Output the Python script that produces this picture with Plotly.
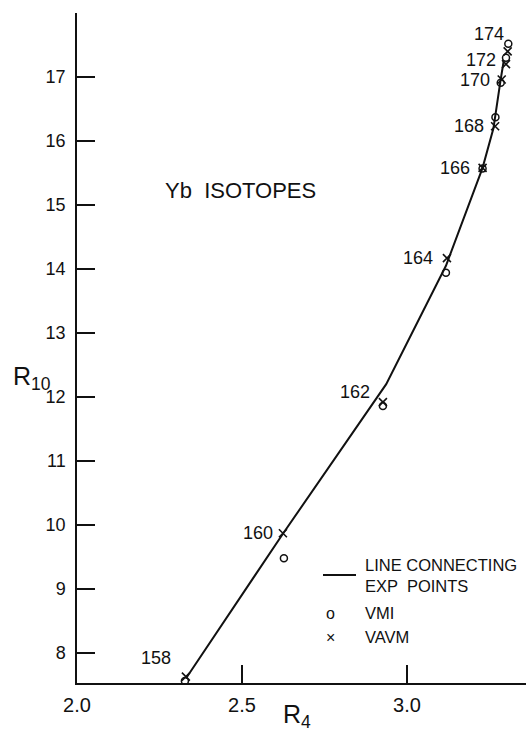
import plotly.graph_objects as go

# Yb isotopes: R4 = E(4+)/E(2+), R10 = E(10+)/E(2+)
isotopes = ["158", "160", "162", "164", "166", "168", "170", "172", "174"]

# variable moment of inertia model
vmi_r4 = [2.327, 2.627, 2.927, 3.118, 3.229, 3.268, 3.284, 3.300, 3.307]
vmi_r10 = [7.56, 9.48, 11.86, 13.94, 15.57, 16.37, 16.91, 17.30, 17.52]

# variable anharmonic vibrator model
vavm_r4 = [2.330, 2.624, 2.927, 3.121, 3.229, 3.267, 3.287, 3.300, 3.305]
vavm_r10 = [7.63, 9.87, 11.92, 14.17, 15.58, 16.23, 16.96, 17.20, 17.40]

# experimental points joined by the solid line
exp_r4 = [2.330, 2.625, 2.937, 3.118, 3.229, 3.262, 3.283, 3.293]
exp_r10 = [7.60, 9.87, 12.20, 14.05, 15.58, 16.20, 16.93, 17.25]

x_ticks = [2.0, 2.5, 3.0]
y_ticks = [8, 9, 10, 11, 12, 13, 14, 15, 16, 17]

W, H = 526, 736
ML, MR, MT, MB = 77, 0, 13, 53
PW, PH = W - ML - MR, H - MT - MB

FONT = "Liberation Sans"
INK = "#111111"


def px(xp):
    return (xp - ML) / PW


def py(yp):
    return 1 - (yp - MT) / PH


fig = go.Figure()

fig.add_trace(go.Scatter(
    x=exp_r4, y=exp_r10, mode="lines",
    line=dict(color=INK, width=2), hoverinfo="skip", showlegend=False,
))
fig.add_trace(go.Scatter(
    x=vmi_r4, y=vmi_r10, mode="markers",
    marker=dict(symbol="circle-open", size=7, color=INK, line=dict(width=1.5)),
    showlegend=False,
))
fig.add_trace(go.Scatter(
    x=vavm_r4, y=vavm_r10, mode="markers",
    marker=dict(symbol="x-thin-open", size=8, color=INK, line=dict(width=1.6, color=INK)),
    showlegend=False,
))

# mass-number labels, offset to the left of each point
label_shift = [(-13, 19), (-8, 0), (-11, 10), (-12, 0), (-11, 0),
               (-9, 0), (-10, 0), (-8, 4), (-2, 17)]
for name, xv, yv, (dx, dy) in zip(isotopes, vavm_r4, vavm_r10, label_shift):
    fig.add_annotation(
        x=xv, y=yv, text=name, showarrow=False,
        xanchor="right", yanchor="middle", xshift=dx, yshift=dy,
        font=dict(family=FONT, size=18, color=INK),
    )

fig.add_annotation(
    x=px(240), y=py(190), xref="paper", yref="paper", text="Yb  ISOTOPES",
    showarrow=False, xanchor="center", yanchor="middle",
    font=dict(family=FONT, size=22, color=INK),
)

# axis titles
fig.add_annotation(
    x=px(11), y=py(378), xref="paper", yref="paper",
    text="R<sub>10</sub>", showarrow=False, xanchor="left", yanchor="middle",
    font=dict(family=FONT, size=25, color=INK),
)
fig.add_annotation(
    x=px(281), y=py(716), xref="paper", yref="paper",
    text="R<sub>4</sub>", showarrow=False, xanchor="left", yanchor="middle",
    font=dict(family=FONT, size=25, color=INK),
)

# key
fig.add_shape(type="line", xref="paper", yref="paper",
              x0=px(323), x1=px(356), y0=py(575), y1=py(575),
              line=dict(color=INK, width=2))
fig.add_annotation(
    x=px(363), y=py(575), xref="paper", yref="paper",
    text="LINE CONNECTING<br>EXP  POINTS", showarrow=False, align="left",
    xanchor="left", yanchor="middle",
    font=dict(family=FONT, size=16.5, color=INK),
)
fig.add_annotation(
    x=px(330), y=py(613), xref="paper", yref="paper", text="o", showarrow=False,
    xanchor="center", yanchor="middle", font=dict(family=FONT, size=16, color=INK),
)
fig.add_annotation(
    x=px(363), y=py(613), xref="paper", yref="paper", text="VMI", showarrow=False,
    xanchor="left", yanchor="middle", font=dict(family=FONT, size=16.5, color=INK),
)
fig.add_annotation(
    x=px(330), y=py(637), xref="paper", yref="paper", text="×", showarrow=False,
    xanchor="center", yanchor="middle", font=dict(family=FONT, size=16, color=INK),
)
fig.add_annotation(
    x=px(363), y=py(637), xref="paper", yref="paper", text="VAVM", showarrow=False,
    xanchor="left", yanchor="middle", font=dict(family=FONT, size=16.5, color=INK),
)

x_range = [2.0, 2.0 + PW / 330.0]
y_range = [7.53, 18.0]

fig.update_layout(
    width=W, height=H,
    margin=dict(l=ML, r=MR, t=MT, b=MB),
    paper_bgcolor="white", plot_bgcolor="white",
    font=dict(family=FONT, size=17, color=INK),
    xaxis=dict(
        range=x_range, tickvals=x_ticks, ticktext=[f"{v:.1f}" for v in x_ticks],
        ticks="inside", ticklen=18, tickwidth=1.5, tickcolor=INK,
        showline=True, linecolor=INK, linewidth=1.5,
        showgrid=False, zeroline=False, ticklabelstandoff=3,
        tickfont=dict(family=FONT, size=20, color=INK),
    ),
    xaxis2=dict(
        range=x_range, overlaying="x", side="top", anchor="y",
        tickvals=x_ticks, ticks="inside", ticklen=12, tickwidth=1.5, tickcolor=INK,
        showline=True, linecolor=INK, linewidth=1.5, showticklabels=False,
        showgrid=False, zeroline=False,
    ),
    yaxis=dict(
        range=y_range, tickvals=y_ticks,
        ticks="inside", ticklen=18, tickwidth=1.5, tickcolor=INK,
        showline=True, linecolor=INK, linewidth=1.5,
        showgrid=False, zeroline=False, ticklabelstandoff=6,
        tickfont=dict(family=FONT, size=18, color=INK),
    ),
    yaxis2=dict(
        range=y_range, overlaying="y", side="right", anchor="x",
        tickvals=y_ticks, ticks="inside", ticklen=8, tickwidth=1.5, tickcolor=INK,
        showline=False, showticklabels=False, showgrid=False, zeroline=False,
    ),
)

fig.write_html("out.html")
